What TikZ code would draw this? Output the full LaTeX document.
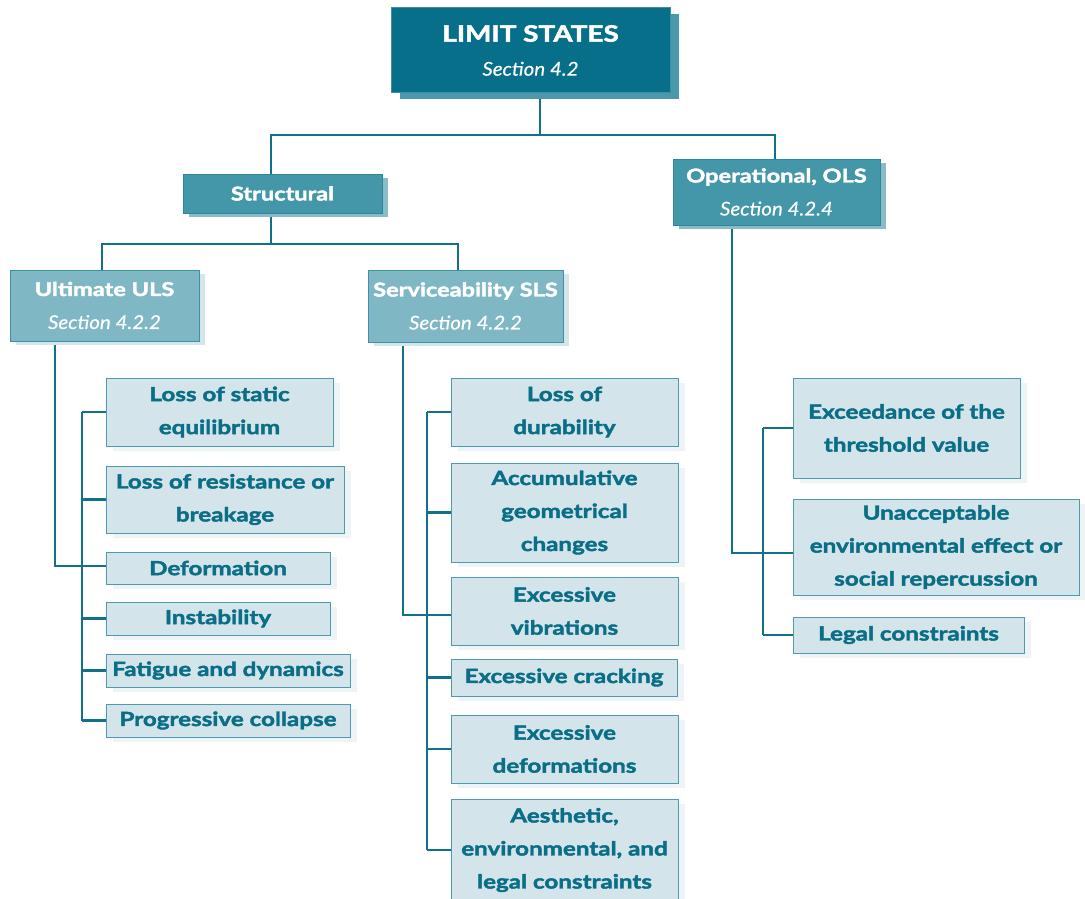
\documentclass[tikz,border=0pt]{standalone}
\usepackage{fontspec}
\setmainfont{Lato}[
  BoldFeatures={FakeStretch=1.24, FakeBold=2.2},
  ItalicFeatures={FakeStretch=1.08, FakeBold=0.4}]
\usetikzlibrary{shadows,backgrounds}

\definecolor{topfill}{HTML}{076F89}
\definecolor{topline}{HTML}{3A8FA4}
\definecolor{topshadow}{HTML}{4B98AB}
\definecolor{midfill}{HTML}{4496A9}
\definecolor{midline}{HTML}{2E869C}
\definecolor{midshadow}{HTML}{8ABCC8}
\definecolor{subfill}{HTML}{80B7C5}
\definecolor{subline}{HTML}{3F91A5}
\definecolor{subshadow}{HTML}{D5E6EB}
\definecolor{leaffill}{HTML}{D3E5EA}
\definecolor{leafline}{HTML}{4C9BAF}
\definecolor{leafshadow}{HTML}{EEF4F6}
\definecolor{leaftext}{HTML}{0B6E87}
\definecolor{linecol}{HTML}{12718A}

\newcommand{\secline}[1]{{\fontsize{19}{33}\selectfont\mdseries\itshape #1}}

\tikzset{
  box/.style={rectangle, inner sep=0pt, align=center, line width=1pt},
  topbox/.style={box, fill=topfill, draw=topline, text=white,
    font=\fontsize{22.5}{34}\selectfont\bfseries,
    drop shadow={shadow xshift=9pt, shadow yshift=-6pt, fill=topshadow, opacity=1, draw=none}},
  midbox/.style={box, fill=midfill, draw=midline, text=white,
    font=\fontsize{19}{33}\selectfont\bfseries,
    drop shadow={shadow xshift=6pt, shadow yshift=-4pt, fill=midshadow, opacity=1, draw=none}},
  subbox/.style={box, fill=subfill, draw=subline, text=white,
    font=\fontsize{19}{33}\selectfont\bfseries,
    drop shadow={shadow xshift=6pt, shadow yshift=-4pt, fill=subshadow, opacity=1, draw=none}},
  leaf/.style={box, fill=leaffill, draw=leafline, text=leaftext,
    font=\fontsize{19.5}{33}\selectfont\bfseries,
    drop shadow={shadow xshift=7pt, shadow yshift=-5pt, fill=leafshadow, opacity=1, draw=none}},
  conn/.style={draw=linecol, line width=2.4pt},
}

\begin{document}
\begin{tikzpicture}[x=1pt, y=-1pt]
\useasboundingbox (0,0) rectangle (1085,899);

% upper levels
\node[topbox, minimum width=279pt, minimum height=85pt] (top) at (530.5,50.5)
  {LIMIT STATES\\\secline{Section 4.2}};
\node[midbox, minimum width=199pt, minimum height=39pt] (struct) at (282.5,193.5)
  {Structural};
\node[midbox, minimum width=207pt, minimum height=66pt] (oper) at (776.5,192)
  {Operational, OLS\\\secline{Section 4.2.4}};
\node[subbox, minimum width=189pt, minimum height=71pt] (uls) at (104.5,305.5)
  {Ultimate ULS\\\secline{Section 4.2.2}};
\node[subbox, minimum width=195pt, minimum height=72pt] (sls) at (465.5,306)
  {Serviceability SLS\\\secline{Section 4.2.2}};

% ultimate limit states
\node[leaf, minimum width=227pt, minimum height=68pt] (L1) at (219.5,412) {Loss of static\\equilibrium};
\node[leaf, minimum width=238pt, minimum height=67pt] (L2) at (225,499.5) {Loss of resistance or\\breakage};
\node[leaf, minimum width=224pt, minimum height=32pt] (L3) at (218,568) {Deformation};
\node[leaf, minimum width=224pt, minimum height=33pt] (L4) at (218,618.5) {Instability};
\node[leaf, minimum width=244pt, minimum height=33pt] (L5) at (228,670.5) {Fatigue and dynamics};
\node[leaf, minimum width=244pt, minimum height=33pt] (L6) at (228,720.5) {Progressive collapse};

% serviceability limit states
\node[leaf, minimum width=227pt, minimum height=68pt] (M1) at (564.5,412) {Loss of\\durability};
\node[leaf, minimum width=227pt, minimum height=99pt] (M2) at (564.5,512.5) {Accumulative\\geometrical\\changes};
\node[leaf, minimum width=227pt, minimum height=68pt] (M3) at (564.5,611) {Excessive\\vibrations};
\node[leaf, minimum width=226pt, minimum height=37pt] (M4) at (564,677.5) {Excessive cracking};
\node[leaf, minimum width=227pt, minimum height=68pt] (M5) at (564.5,749) {Excessive\\deformations};
\node[leaf, minimum width=227pt, minimum height=102pt] (M6) at (564.5,850) {Aesthetic,\\environmental, and\\legal constraints};

% operational limit states
\node[leaf, minimum width=227pt, minimum height=100pt] (R1) at (906.5,428) {Exceedance of the\\threshold value};
\node[leaf, minimum width=286pt, minimum height=96pt] (R2) at (936,547) {Unacceptable\\environmental effect or\\social repercussion};
\node[leaf, minimum width=231pt, minimum height=36pt] (R3) at (908.5,635) {Legal constraints};

% junction points
\coordinate (j0) at (540,135);
\coordinate (jS) at (271,135);
\coordinate (jO) at (775,135);
\coordinate (k0) at (271,244);
\coordinate (kU) at (102,244);
\coordinate (kS) at (458,244);
\coordinate (ux) at (55,566);
\coordinate (ub) at (82,0);
\coordinate (sx) at (403,615);
\coordinate (sb) at (427,0);
\coordinate (ox) at (732,553);
\coordinate (ob) at (763,0);

\begin{scope}[on background layer]
  \draw[conn] (top.south -| j0) -- (j0);
  \draw[conn] (struct.north -| jS) -- (jS) -- (jO) -- (oper.north -| jO);
  \draw[conn] (struct.south -| k0) -- (k0);
  \draw[conn] (uls.north -| kU) -- (kU) -- (kS) -- (sls.north -| kS);

  % ultimate: feed line joins the bar at "Deformation"
  \draw[conn] (uls.south -| ux) -- (ux) -- (ux -| L3.west);
  \draw[conn] (L1.west -| ub) -- (L6.west -| ub);
  \foreach \n in {L1,L2,L4,L5,L6} \draw[conn] (\n.west -| ub) -- (\n.west);

  % serviceability: feed line joins the bar at "Excessive vibrations"
  \draw[conn] (sls.south -| sx) -- (sx) -- (sx -| M3.west);
  \draw[conn] (M1.west -| sb) -- (M6.west -| sb);
  \foreach \n in {M1,M2,M4,M5,M6} \draw[conn] (\n.west -| sb) -- (\n.west);

  % operational: feed line joins the bar at the middle box
  \draw[conn] (oper.south -| ox) -- (ox) -- (ox -| R2.west);
  \draw[conn] (R1.west -| ob) -- (R3.west -| ob);
  \foreach \n in {R1,R3} \draw[conn] (\n.west -| ob) -- (\n.west);
\end{scope}
\end{tikzpicture}
\end{document}
